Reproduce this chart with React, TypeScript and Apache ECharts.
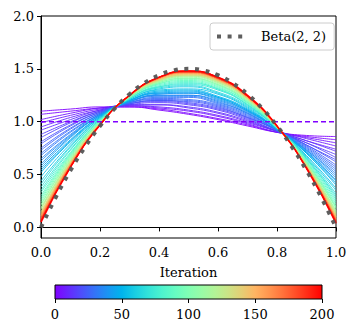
import React, { useEffect, useRef } from "react";
import * as echarts from "echarts";

// x positions at which each iteration's density curve was read
const xGrid = [0, 0.1, 0.2, 0.3, 0.4, 0.5, 0.6, 0.7, 0.8, 0.9, 1.0];
// iterations drawn
const iterations = [
  0, 2, 5, 7, 10, 12, 15, 17, 20, 22, 25, 27, 30, 32, 35, 37, 40, 42, 45, 47,
  50, 55, 60, 65, 70, 75, 80, 85, 90, 95,
  100, 105, 110, 115, 120, 125, 130, 135, 140, 145, 150, 155, 160, 165, 170, 175,
  180, 185, 190, 195, 200,
];
// density values at xGrid, one row per iteration
const densityCurves = [
  [1.10, 1.12, 1.14, 1.14, 1.11, 1.07, 1.02, 0.96, 0.90, 0.87, 0.86],
  [1.07, 1.10, 1.13, 1.14, 1.12, 1.08, 1.03, 0.97, 0.90, 0.86, 0.83],
  [1.02, 1.08, 1.13, 1.15, 1.13, 1.10, 1.05, 0.98, 0.90, 0.85, 0.80],
  [0.99, 1.06, 1.12, 1.15, 1.14, 1.11, 1.06, 0.99, 0.91, 0.84, 0.77],
  [0.95, 1.04, 1.11, 1.16, 1.16, 1.13, 1.08, 1.00, 0.91, 0.82, 0.74],
  [0.92, 1.02, 1.11, 1.16, 1.16, 1.14, 1.09, 1.01, 0.91, 0.82, 0.72],
  [0.88, 1.00, 1.10, 1.16, 1.18, 1.16, 1.11, 1.02, 0.91, 0.80, 0.69],
  [0.85, 0.99, 1.10, 1.17, 1.19, 1.17, 1.12, 1.03, 0.91, 0.80, 0.66],
  [0.81, 0.97, 1.09, 1.17, 1.20, 1.18, 1.13, 1.04, 0.92, 0.78, 0.64],
  [0.79, 0.96, 1.09, 1.17, 1.20, 1.19, 1.14, 1.04, 0.92, 0.78, 0.62],
  [0.75, 0.94, 1.08, 1.18, 1.21, 1.20, 1.15, 1.05, 0.92, 0.77, 0.59],
  [0.73, 0.93, 1.08, 1.18, 1.22, 1.21, 1.16, 1.06, 0.92, 0.76, 0.57],
  [0.70, 0.91, 1.07, 1.18, 1.23, 1.23, 1.17, 1.07, 0.92, 0.75, 0.55],
  [0.68, 0.90, 1.07, 1.19, 1.24, 1.24, 1.18, 1.08, 0.92, 0.74, 0.53],
  [0.65, 0.88, 1.07, 1.19, 1.25, 1.25, 1.19, 1.08, 0.92, 0.73, 0.51],
  [0.63, 0.87, 1.06, 1.19, 1.25, 1.25, 1.20, 1.09, 0.93, 0.73, 0.49],
  [0.60, 0.86, 1.06, 1.19, 1.26, 1.27, 1.21, 1.10, 0.93, 0.72, 0.47],
  [0.58, 0.85, 1.06, 1.20, 1.27, 1.27, 1.22, 1.10, 0.93, 0.71, 0.45],
  [0.56, 0.83, 1.05, 1.20, 1.27, 1.28, 1.23, 1.11, 0.93, 0.71, 0.44],
  [0.54, 0.82, 1.05, 1.20, 1.28, 1.29, 1.23, 1.11, 0.93, 0.70, 0.42],
  [0.52, 0.81, 1.04, 1.20, 1.29, 1.30, 1.24, 1.12, 0.93, 0.70, 0.40],
  [0.48, 0.79, 1.04, 1.21, 1.30, 1.31, 1.26, 1.13, 0.93, 0.68, 0.37],
  [0.44, 0.77, 1.03, 1.21, 1.31, 1.33, 1.27, 1.14, 0.94, 0.67, 0.35],
  [0.41, 0.76, 1.03, 1.22, 1.32, 1.34, 1.28, 1.15, 0.94, 0.66, 0.32],
  [0.38, 0.74, 1.02, 1.22, 1.33, 1.35, 1.30, 1.16, 0.94, 0.65, 0.30],
  [0.35, 0.73, 1.02, 1.22, 1.33, 1.36, 1.31, 1.16, 0.94, 0.65, 0.28],
  [0.33, 0.71, 1.01, 1.22, 1.34, 1.37, 1.31, 1.17, 0.94, 0.64, 0.26],
  [0.30, 0.70, 1.01, 1.23, 1.35, 1.38, 1.32, 1.18, 0.94, 0.63, 0.24],
  [0.28, 0.69, 1.01, 1.23, 1.36, 1.39, 1.33, 1.18, 0.94, 0.62, 0.22],
  [0.26, 0.68, 1.00, 1.23, 1.36, 1.40, 1.34, 1.19, 0.95, 0.62, 0.20],
  [0.24, 0.67, 1.00, 1.23, 1.37, 1.41, 1.35, 1.19, 0.95, 0.61, 0.19],
  [0.22, 0.66, 1.00, 1.24, 1.37, 1.41, 1.35, 1.20, 0.95, 0.61, 0.18],
  [0.21, 0.65, 0.99, 1.24, 1.38, 1.42, 1.36, 1.20, 0.95, 0.60, 0.16],
  [0.19, 0.64, 0.99, 1.24, 1.38, 1.43, 1.37, 1.21, 0.95, 0.60, 0.15],
  [0.18, 0.63, 0.99, 1.24, 1.39, 1.43, 1.37, 1.21, 0.95, 0.59, 0.14],
  [0.17, 0.63, 0.99, 1.24, 1.39, 1.44, 1.38, 1.22, 0.95, 0.59, 0.13],
  [0.15, 0.62, 0.98, 1.24, 1.39, 1.44, 1.38, 1.22, 0.95, 0.59, 0.12],
  [0.14, 0.61, 0.98, 1.24, 1.40, 1.44, 1.39, 1.22, 0.95, 0.58, 0.11],
  [0.13, 0.61, 0.98, 1.25, 1.40, 1.45, 1.39, 1.22, 0.95, 0.58, 0.10],
  [0.12, 0.60, 0.98, 1.25, 1.40, 1.45, 1.39, 1.23, 0.95, 0.58, 0.10],
  [0.11, 0.60, 0.98, 1.25, 1.41, 1.46, 1.40, 1.23, 0.95, 0.57, 0.09],
  [0.11, 0.60, 0.98, 1.25, 1.41, 1.46, 1.40, 1.23, 0.95, 0.57, 0.08],
  [0.10, 0.59, 0.98, 1.25, 1.41, 1.46, 1.40, 1.23, 0.95, 0.57, 0.08],
  [0.09, 0.59, 0.97, 1.25, 1.41, 1.47, 1.41, 1.24, 0.96, 0.57, 0.07],
  [0.08, 0.58, 0.97, 1.25, 1.42, 1.47, 1.41, 1.24, 0.96, 0.57, 0.07],
  [0.08, 0.58, 0.97, 1.25, 1.42, 1.47, 1.41, 1.24, 0.96, 0.56, 0.06],
  [0.07, 0.58, 0.97, 1.25, 1.42, 1.47, 1.41, 1.24, 0.96, 0.56, 0.06],
  [0.07, 0.57, 0.97, 1.25, 1.42, 1.47, 1.41, 1.24, 0.96, 0.56, 0.05],
  [0.06, 0.57, 0.97, 1.25, 1.42, 1.48, 1.42, 1.24, 0.96, 0.56, 0.05],
  [0.06, 0.57, 0.97, 1.25, 1.42, 1.48, 1.42, 1.24, 0.96, 0.56, 0.04],
  [0.05, 0.57, 0.97, 1.25, 1.42, 1.48, 1.42, 1.25, 0.96, 0.56, 0.04],
];
// Beta(2,2) reference density
const betaX = [0, 0.05, 0.1, 0.15, 0.2, 0.25, 0.3, 0.35, 0.4, 0.45, 0.5, 0.55, 0.6, 0.65, 0.7, 0.75, 0.8, 0.85, 0.9, 0.95, 1.0];
const betaY = [0, 0.285, 0.54, 0.765, 0.96, 1.125, 1.26, 1.365, 1.44, 1.485, 1.5, 1.485, 1.44, 1.365, 1.26, 1.125, 0.96, 0.765, 0.54, 0.285, 0];
// initial uniform density (dashed)
const uniformX = [0, 1];
const uniformY = [1, 1];

const yTicks = [0, 0.5, 1.0, 1.5, 2.0];
const maxIteration = 200;

const FONT = "DejaVu Serif";

function rainbow(t: number): string {
  const c = (v: number) => Math.round(Math.max(0, Math.min(1, v)) * 255);
  const r = Math.abs(2 * t - 0.5);
  const g = Math.sin(Math.PI * t);
  const b = Math.cos((Math.PI * t) / 2);
  return `rgb(${c(r)},${c(g)},${c(b)})`;
}

export default function App() {
  const ref = useRef<HTMLDivElement>(null);
  useEffect(() => {
    if (!ref.current) return;
    const chart = echarts.init(ref.current, null, { renderer: "svg" });

    const stops = [];
    for (let i = 0; i <= 20; i++) stops.push({ offset: i / 20, color: rainbow(i / 20) });

    const curveSeries = iterations.map((it, i) => ({
      type: "line",
      xAxisIndex: 0,
      yAxisIndex: 0,
      data: xGrid.map((x, j) => [x, densityCurves[i][j]]),
      smooth: true,
      symbol: "none",
      silent: true,
      z: 2,
      lineStyle: { color: rainbow(it / maxIteration), width: it === maxIteration ? 1.6 : 0.9 },
    }));

    const option: any = {
      animation: false,
      backgroundColor: "#fff",
      textStyle: { fontFamily: FONT, color: "#000" },
      grid: [
        { left: 41, right: 21, top: 16, bottom: 96, show: true, borderColor: "#000", borderWidth: 1, backgroundColor: "transparent" },
        {
          left: 55, right: 35, top: 285, height: 14, show: true, borderColor: "#000", borderWidth: 1,
          backgroundColor: new echarts.graphic.LinearGradient(0, 0, 1, 0, stops),
        },
      ],
      xAxis: [
        {
          type: "value", gridIndex: 0, min: 0, max: 1, interval: 0.2,
          axisLine: { show: true, lineStyle: { color: "#000", width: 1 } },
          axisTick: { show: true, length: 4, lineStyle: { color: "#000" } },
          axisLabel: { color: "#000", fontFamily: FONT, fontSize: 13, margin: 8, formatter: (v: number) => v.toFixed(1) },
          splitLine: { show: false },
          name: "Iteration", nameLocation: "middle", nameGap: 28,
          nameTextStyle: { color: "#000", fontFamily: FONT, fontSize: 13 },
        },
        {
          type: "value", gridIndex: 1, min: 0, max: maxIteration, interval: 50,
          axisLine: { show: false },
          axisTick: { show: true, length: 4, lineStyle: { color: "#000" } },
          axisLabel: { color: "#000", fontFamily: FONT, fontSize: 13, margin: 9 },
          splitLine: { show: false },
        },
      ],
      yAxis: [
        {
          type: "value", gridIndex: 0, min: -0.1, max: 2.0,
          axisLine: { show: true, lineStyle: { color: "#000", width: 1 } },
          axisTick: { show: true, length: 4, lineStyle: { color: "#000" }, customValues: yTicks },
          axisLabel: { color: "#000", fontFamily: FONT, fontSize: 13, margin: 7, customValues: yTicks, formatter: (v: number) => v.toFixed(1) },
          splitLine: { show: false },
        },
        { type: "value", gridIndex: 1, min: 0, max: 1, show: false },
      ],
      legend: {
        show: true,
        data: ["Beta(2, 2)"],
        left: 210, top: 23,
        padding: [7, 8, 7, 5],
        itemWidth: 30, itemHeight: 14,
        borderColor: "#cccccc", borderWidth: 1, borderRadius: 3,
        backgroundColor: "rgba(255,255,255,0.85)",
        textStyle: { fontFamily: FONT, fontSize: 13, color: "#000", padding: [0, 0, 0, 9] },
        lineStyle: { width: 4, type: [4, 6.6], cap: "butt", color: "#555" },
        itemStyle: { opacity: 0, color: "transparent", borderWidth: 0 },
        z: 10,
      },
      series: [
        ...curveSeries,
        {
          type: "line", xAxisIndex: 0, yAxisIndex: 0,
          data: uniformX.map((x, i) => [x, uniformY[i]]),
          symbol: "none", silent: true, z: 3,
          lineStyle: { color: rainbow(0), width: 1.5, type: [5, 3] },
        },
        {
          name: "Beta(2, 2)", type: "line", xAxisIndex: 0, yAxisIndex: 0,
          data: betaX.map((x, i) => [x, betaY[i]]),
          smooth: true, symbol: "none", silent: true, z: 4,
          itemStyle: { color: "#555" },
          lineStyle: { color: "#555", width: 4, type: [4, 6.6], cap: "butt", opacity: 0.95 },
        },
      ],
    };
    chart.setOption(option);
    return () => chart.dispose();
  }, []);
  return <div ref={ref} style={{ position: "fixed", left: 0, top: 0, width: 357, height: 334 }} />;
}
